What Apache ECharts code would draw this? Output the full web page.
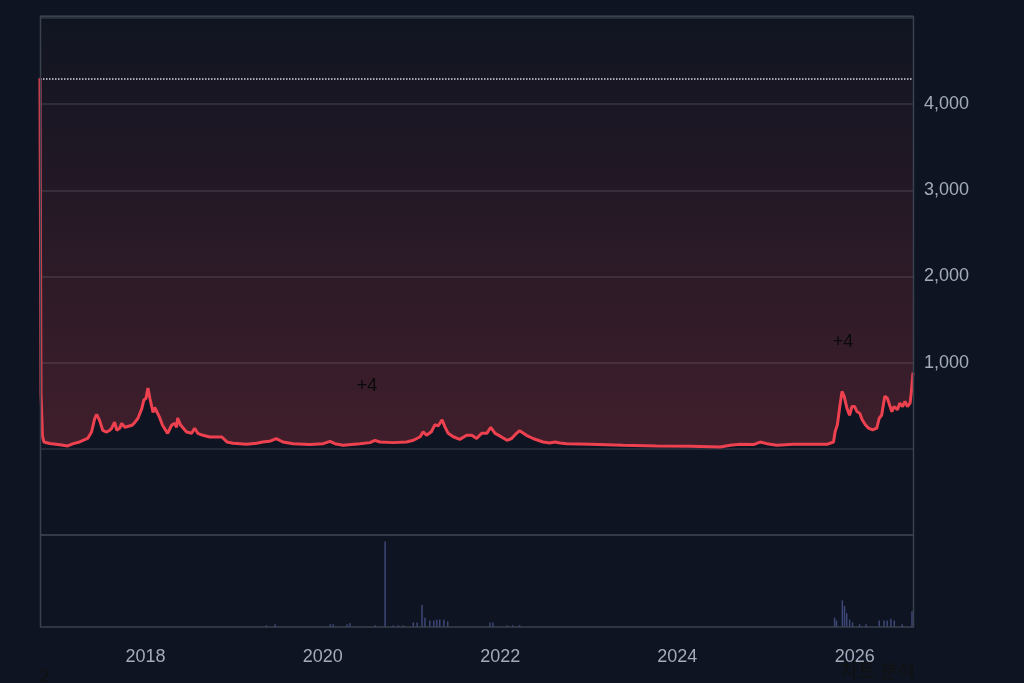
<!DOCTYPE html>
<html>
<head>
<meta charset="utf-8">
<script src="https://cdn.jsdelivr.net/npm/echarts@6/dist/echarts.min.js"></script>
<style>
html,body{margin:0;padding:0;background:#0e1421;}
#c{width:1024px;height:683px;}
</style>
</head>
<body>
<div id="c"></div>
<script>
const priceDates = [
'2016-10-26','2016-10-30','2016-11-05','2016-11-11','2016-12-05','2017-01-16','2017-02-17','2017-03-09','2017-04-07','2017-05-10',
'2017-05-26','2017-06-08','2017-06-16','2017-06-28','2017-07-11','2017-07-27','2017-08-09','2017-08-17','2017-08-29','2017-09-07',
'2017-09-19','2017-09-27','2017-10-10','2017-10-18','2017-11-08','2017-11-20','2017-12-03','2017-12-19','2017-12-27','2018-01-05',
'2018-01-13','2018-01-21','2018-02-03','2018-02-10','2018-02-18','2018-03-02','2018-03-14','2018-04-04','2018-04-20','2018-05-03',
'2018-05-11','2018-05-15','2018-05-28','2018-06-05','2018-06-21','2018-07-12','2018-07-24','2018-08-06','2018-08-27','2018-09-24',
'2018-10-23','2018-11-13','2018-12-04','2018-12-29','2019-02-23','2019-04-05','2019-04-30','2019-05-28','2019-06-25','2019-07-22',
'2019-09-02','2019-11-10','2020-01-04','2020-02-01','2020-02-21','2020-03-26','2020-06-03','2020-07-14','2020-08-04','2020-08-24',
'2020-10-18','2020-12-12','2021-01-09','2021-01-23','2021-02-06','2021-02-18','2021-03-04','2021-03-24','2021-04-07','2021-04-21',
'2021-05-07','2021-05-18','2021-06-01','2021-06-22','2021-07-19','2021-08-16','2021-09-06','2021-09-26','2021-10-17','2021-11-07',
'2021-11-23','2021-12-11','2022-01-01','2022-01-29','2022-02-17','2022-03-09','2022-03-22','2022-04-19','2022-05-16','2022-06-26',
'2022-07-24','2022-08-14','2022-09-04','2022-10-01','2023-01-06','2023-05-21','2023-10-07','2024-02-21','2024-06-24','2024-08-04',
'2024-09-14','2024-11-08','2024-12-05','2025-01-02','2025-02-12','2025-04-21','2025-07-12','2025-09-06','2025-10-03','2025-10-10',
'2025-10-19','2025-10-28','2025-11-07','2025-11-16','2025-11-27','2025-12-08','2025-12-18','2025-12-29','2026-01-08','2026-01-19',
'2026-01-29','2026-02-11','2026-02-24','2026-03-13','2026-03-30','2026-04-09','2026-04-19','2026-05-02','2026-05-12','2026-05-20',
'2026-05-31','2026-06-09','2026-06-23','2026-07-03','2026-07-14','2026-07-24','2026-08-03','2026-08-14','2026-08-19','2026-08-26'
];
const priceValues = [
4300,650,150,80,62,48,33,58,80,120,
195,350,400,330,215,195,215,240,310,215,
240,296,250,238,273,306,355,470,565,587,
707,587,422,480,470,364,273,180,273,296,
250,358,273,273,195,180,238,180,157,137,
137,137,80,64,52,64,80,87,118,79,
60,49,60,87,60,41,60,72,99,79,
72,79,99,120,140,198,157,198,279,267,
337,258,180,140,110,157,157,120,180,180,
250,180,147,99,120,180,210,157,120,79,
67,79,67,60,52,41,33,29,21,41,
52,49,79,60,41,52,52,52,79,205,
279,473,667,609,473,390,491,491,430,413,
337,279,240,221,240,355,390,609,590,609,
430,491,455,531,491,550,491,531,650,883
];
const volumeDates = [
'2019-05-14','2019-06-18','2019-10-27','2020-02-01','2020-02-13','2020-04-10','2020-04-22','2020-08-04','2020-09-14','2020-10-17',
'2020-11-07','2020-11-27','2021-01-08','2021-01-24','2021-02-13','2021-02-25','2021-03-17','2021-04-03','2021-04-15','2021-04-27',
'2021-05-14','2021-05-30','2021-11-20','2021-12-02','2022-01-30','2022-02-22','2022-03-22','2025-10-10','2025-10-18','2025-11-11',
'2025-11-20','2025-11-29','2025-12-11','2025-12-23','2026-01-21','2026-02-17','2026-04-12','2026-05-02','2026-05-15','2026-05-30',
'2026-06-13','2026-07-16','2026-08-25'
];
const volumeValues = [
2,3,1,3,3,3,4,2,93,2,
2,2,5,5,24,10,7,7,8,8,
8,6,5,5,2,2,2,10,7,29,
23,15,8,5,3,3,7,7,7,9,
7,3,17
];
const yTicks = [1000,2000,3000,4000];
const refLevel = 4300;
const annotations = ['+4','+4'];
const titleText = '차트 분석';
const subText = '2';

const chart = echarts.init(document.getElementById('c'), null, {renderer:'canvas'});
const priceData = priceDates.map((d,i)=>[d, priceValues[i]]);
const volData = volumeDates.map((d,i)=>[d, volumeValues[i]]);
const xMin = priceDates[0], xMax = priceDates[priceDates.length-1];
const font = "'Liberation Sans', Arial, sans-serif";

chart.setOption({
  backgroundColor:'#0e1421',
  animation:false,
  grid:[
    {left:40, right:111, top:16, height:519, outerBoundsMode:'none', show:false},
    {left:40, right:111, top:535, height:92, outerBoundsMode:'none', show:false}
  ],
  xAxis:[
    {type:'time', gridIndex:0, min:xMin, max:xMax, axisLine:{show:false}, axisTick:{show:false}, axisLabel:{show:false}, splitLine:{show:false}},
    {type:'time', gridIndex:1, min:xMin, max:xMax, axisLine:{show:false}, axisTick:{show:false}, splitLine:{show:false},
     axisLabel:{color:'#a3abbb', fontSize:18, fontFamily:font, margin:21, hideOverlap:false,
       formatter:function(v){const d=new Date(v); if(d.getMonth()===0 && d.getDate()===1 && d.getFullYear()%2===0) return String(d.getFullYear()); return '';}}}
  ],
  yAxis:[
    {type:'value', gridIndex:0, position:'right', min:-1000, max:5023, interval:1000,
     axisLine:{show:false}, axisTick:{show:false},
     splitLine:{show:true, lineStyle:{color:'#2c3341', width:1.5}},
     axisLabel:{color:'#a3abbb', fontSize:18, fontFamily:font, margin:11, padding:[4,0,0,0],
       formatter:function(v){return yTicks.indexOf(v)>=0 ? v.toLocaleString('en-US') : '';}}},
    {type:'value', gridIndex:1, min:0, max:100, show:false, splitLine:{show:false}}
  ],
  series:[
    {type:'line', xAxisIndex:0, yAxisIndex:0, data:priceData, showSymbol:false, symbol:'none',
     lineStyle:{color:'#ee4150', width:3},
     areaStyle:{origin:'end', color:new echarts.graphic.LinearGradient(0,0,0,1,[
       {offset:0, color:'rgba(238,65,80,0.01)'},
       {offset:1, color:'rgba(238,65,80,0.32)'}])},
     markLine:{silent:true, symbol:['none','none'], label:{show:false},
       lineStyle:{type:'dotted', color:'#d5dbe3', width:1.5},
       data:[{yAxis:refLevel}]},
     z:3},
    {type:'bar', xAxisIndex:1, yAxisIndex:1, data:volData, barWidth:1.5,
     itemStyle:{color:'rgba(78,88,150,0.75)'}}
  ],
  graphic:[
    {type:'rect', shape:{x:40.5, y:16.5, width:873, height:610.5}, style:{fill:'none', stroke:'#3a414f', lineWidth:1.5}, silent:true, z:10},
    {type:'line', shape:{x1:40, y1:535, x2:913, y2:535}, style:{stroke:'#3a414f', lineWidth:1.5}, silent:true, z:10},
    {type:'text', x:367, y:386, style:{text:annotations[0], fill:'#0a0a0a', fontSize:18, fontFamily:font, align:'center', verticalAlign:'middle'}, z:20},
    {type:'text', x:843, y:342, style:{text:annotations[1], fill:'#0a0a0a', fontSize:18, fontFamily:font, align:'center', verticalAlign:'middle'}, z:20},
    {type:'text', x:915, y:661, style:{text:titleText, fill:'#111', fontSize:19, fontFamily:"'Noto Sans CJK KR', sans-serif", align:'right', verticalAlign:'top'}, z:20},
    {type:'text', x:40, y:668, style:{text:subText, fill:'#111', fontSize:18, fontFamily:font, align:'left', verticalAlign:'top'}, z:20}
  ]
});
</script>
</body>
</html>
